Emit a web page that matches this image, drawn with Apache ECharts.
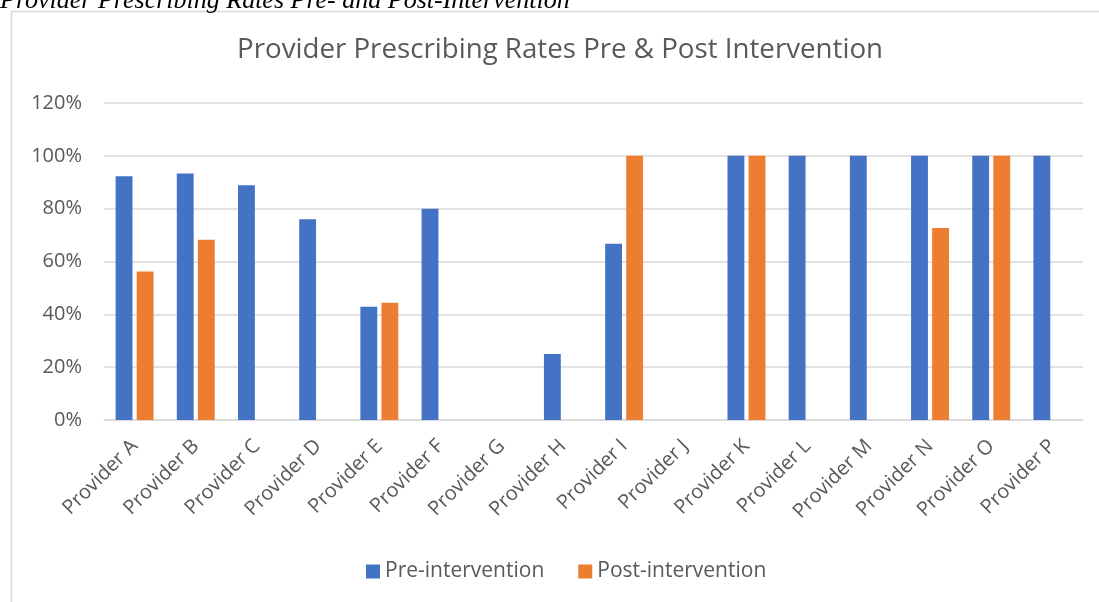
<!DOCTYPE html>
<html>
<head>
<meta charset="utf-8">
<script src="https://cdn.jsdelivr.net/npm/echarts@6/dist/echarts.min.js"></script>
<style>
html,body{margin:0;padding:0;background:#fff;overflow:hidden;}
#chart{width:1099px;height:602px;}
</style>
</head>
<body>
<div id="chart"></div>
<script>
const categories = ['Provider A','Provider B','Provider C','Provider D','Provider E','Provider F','Provider G','Provider H','Provider I','Provider J','Provider K','Provider L','Provider M','Provider N','Provider O','Provider P'];
const preIntervention  = [0.923, 0.933, 0.889, 0.76, 0.429, 0.80, 0, 0.25, 0.667, 0, 1, 1, 1, 1, 1, 1];
const postIntervention = [0.5625, 0.682, 0, 0, 0.444, 0, 0, 0, 1, 0, 1, 0, 0, 0.727, 1, 0];
const yTicks = [0, 0.2, 0.4, 0.6, 0.8, 1.0, 1.2];
const seriesNames = ['Pre-intervention', 'Post-intervention'];
const chartTitle = 'Provider Prescribing Rates Pre & Post Intervention';
const caption = 'Provider Prescribing Rates Pre- and Post-Intervention';

const font = '"Open Sans", Lato, sans-serif';
const chart = echarts.init(document.getElementById('chart'));
chart.setOption({
  backgroundColor: '#fff',
  animation: false,
  graphic: [
    { type: 'rect', shape: { x: 11.5, y: 11.5, width: 1200, height: 700 }, style: { fill: 'none', stroke: '#d9d9d9', lineWidth: 1.5 }, silent: true },
    { type: 'text', left: 0, top: -12, style: { text: caption, font: 'italic 26px "Liberation Serif", serif', fill: '#000' }, silent: true }
  ],
  title: {
    text: chartTitle, left: 232, top: 31,
    textStyle: { fontFamily: font, fontSize: 27.7, fontWeight: 'normal', color: '#595959' }
  },
  legend: {
    data: seriesNames, bottom: 15, left: 361, itemWidth: 14, itemHeight: 14, itemGap: 34,
    icon: 'rect',
    textStyle: { fontFamily: font, fontSize: 21, color: '#595959' }
  },
  grid: { left: 104, right: 16, top: 103, bottom: 182, containLabel: false },
  xAxis: {
    type: 'category', data: categories,
    axisLine: { lineStyle: { color: '#d9d9d9', width: 1.5 } },
    axisTick: { show: false },
    axisLabel: { rotate: 45, interval: 0, fontFamily: font, fontSize: 20, color: '#595959', margin: 23 }
  },
  yAxis: {
    type: 'value', min: 0, max: 1.2, interval: 0.2,
    axisLine: { show: false }, axisTick: { show: false },
    splitLine: { lineStyle: { color: '#d9d9d9', width: 1.5 } },
    axisLabel: { fontFamily: font, fontSize: 20, color: '#595959', margin: 22,
      formatter: v => Math.round(v * 100) + '%' }
  },
  series: [
    { name: seriesNames[0], type: 'bar', data: preIntervention, barGap: '25%', barCategoryGap: '38%',
      itemStyle: { color: '#4472C4' } },
    { name: seriesNames[1], type: 'bar', data: postIntervention, barGap: '25%', barCategoryGap: '38%',
      itemStyle: { color: '#ED7D31' } }
  ]
});
</script>
</body>
</html>
